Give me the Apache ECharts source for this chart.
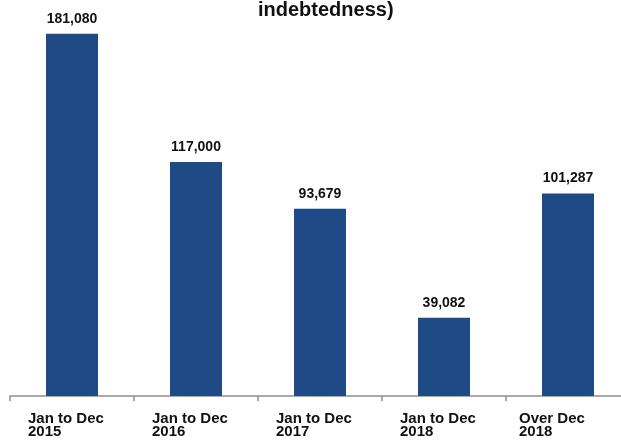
<!DOCTYPE html>
<html>
<head>
<meta charset="utf-8">
<script src="https://cdn.jsdelivr.net/npm/echarts@6/dist/echarts.min.js"></script>
<style>
  html, body { margin: 0; padding: 0; background: #ffffff; overflow: hidden; }
  #chart { width: 640px; height: 440px; }
</style>
</head>
<body>
<div id="chart"></div>
<script>
// Periods shown on the category axis (two-line labels)
const periodLines = ['Jan to Dec', 'Jan to Dec', 'Jan to Dec', 'Jan to Dec', 'Over Dec'];
const periodYears = ['2015', '2016', '2017', '2018', '2018'];
// Amount for each period
const amounts = [181080, 117000, 93679, 39082, 101287];
const titleText = 'indebtedness)';

const categories = periodLines.map((p, i) => p + '\n' + periodYears[i]);
const FONT = '"Liberation Sans", Arial, Helvetica, sans-serif';
const BAR_COLOR = '#1f4a86';

const chart = echarts.init(document.getElementById('chart'), null, { renderer: 'canvas' });

const labelText = { fontFamily: FONT, fontSize: 15, fontWeight: 'bold', color: '#111111', align: 'left', lineHeight: 13 };

chart.setOption({
  animation: false,
  backgroundColor: '#ffffff',
  title: {
    text: titleText,
    left: 258,
    top: 0,
    padding: 0,
    textStyle: { fontFamily: FONT, fontSize: 20, fontWeight: 'bold', color: '#111111' }
  },
  // the plot runs slightly past the right edge of the visible area
  grid: { left: 10, right: 10, top: 16, bottom: 44, containLabel: false },
  xAxis: {
    type: 'category',
    data: categories,
    boundaryGap: true,
    axisLine: { show: true, lineStyle: { color: '#8f8f8f', width: 1.5 } },
    axisTick: { show: true, length: 5, alignWithLabel: false, lineStyle: { color: '#8f8f8f', width: 1.5 } },
    axisLabel: {
      interval: 0,
      margin: 16,
      formatter: (v, i) => {
        const key = i === categories.length - 1 ? 'b' : 'a';
        return v.split('\n').map(s => '{' + key + '|' + s + '}').join('\n');
      },
      rich: {
        a: Object.assign({ width: 88 }, labelText),
        b: Object.assign({ width: 98 }, labelText)
      }
    },
    splitLine: { show: false }
  },
  yAxis: {
    type: 'value',
    min: 0,
    max: 190000,
    show: false
  },
  series: [{
    type: 'bar',
    data: amounts,
    barWidth: 52,
    itemStyle: { color: BAR_COLOR },
    label: {
      show: true,
      position: 'top',
      distance: 8,
      fontFamily: FONT,
      fontSize: 14,
      fontWeight: 'bold',
      color: '#111111',
      formatter: (p) => p.value.toLocaleString('en-US')
    }
  }]
});
</script>
</body>
</html>
